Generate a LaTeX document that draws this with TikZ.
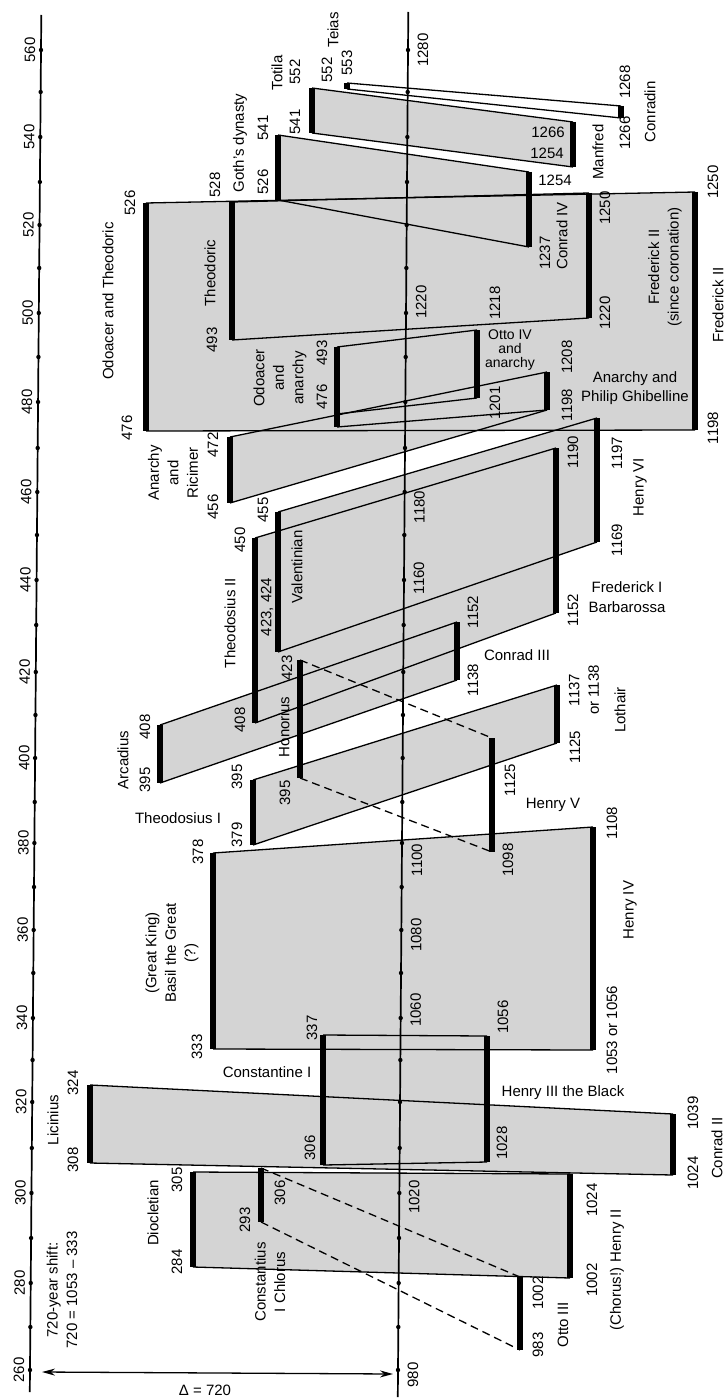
\documentclass[tikz,border=0pt]{standalone}
\usepackage{fontspec}
\setmainfont{Liberation Sans}
\usetikzlibrary{arrows.meta}

\colorlet{stipple}{black!17}
\tikzset{
  reignbar/.style={line width=6pt},
  edge/.style={line width=1.3pt},
  dashedge/.style={line width=1.3pt, dash pattern=on 8pt off 5pt},
  stip/.style={fill=stipple},
  vlab/.style={rotate=90, inner sep=1pt, align=center},
  hlab/.style={inner sep=1pt, align=center},
}

\begin{document}
\begin{tikzpicture}[x=1pt, y=-1pt, font=\fontsize{15}{19.5}\selectfont]
\useasboundingbox (0,0) rectangle (726,1399);

% ── Reign bars, earlier period (x, top, bottom) ─────────────────
\coordinate (licinT) at (90,1085);  \coordinate (licinB) at (90,1163);
\coordinate (dioclT) at (193,1172); \coordinate (dioclB) at (193,1267);
\coordinate (chlorT) at (261,1168); \coordinate (chlorB) at (261,1222);
\coordinate (constT) at (323,1035); \coordinate (constB) at (323,1165);
\coordinate (basilT) at (213,853);  \coordinate (basilB) at (213,1049);
\coordinate (theoIT) at (253,780);  \coordinate (theoIB) at (253,845);
\coordinate (arcadT) at (160,725);  \coordinate (arcadB) at (160,783);
\coordinate (honorT) at (300,660);  \coordinate (honorB) at (300,778);
\coordinate (theoIIT) at (255,538); \coordinate (theoIIB) at (255,723);
\coordinate (valenT) at (278,512);  \coordinate (valenB) at (278,652);
\coordinate (ricimT) at (230,437);  \coordinate (ricimB) at (230,503);
\coordinate (odoanT) at (337,347);  \coordinate (odoanB) at (337,427);
\coordinate (odoanM) at (337,414);
\coordinate (odothT) at (146,203);  \coordinate (odothB) at (146,431);
\coordinate (theodT) at (232,202);  \coordinate (theodB) at (232,340);
\coordinate (gothsT) at (278,135);  \coordinate (gothsB) at (278,200);
\coordinate (totilT) at (312,88);   \coordinate (totilB) at (312,133);
\coordinate (teiasT) at (347,83);   \coordinate (teiasB) at (347,89);

% ── Reign bars, later period ─────────────────────────────────────
\coordinate (conIIT) at (673,1114); \coordinate (conIIB) at (673,1175);
\coordinate (henIIT) at (570,1174); \coordinate (henIIB) at (570,1278);
\coordinate (ottIIIT) at (520,1277); \coordinate (ottIIIB) at (520,1350);
\coordinate (henIIIT) at (487,1036); \coordinate (henIIIB) at (487,1162);
\coordinate (henIVT) at (593,827);  \coordinate (henIVB) at (593,1050);
\coordinate (henVT) at (492,738);   \coordinate (henVB) at (492,852);
\coordinate (lothaT) at (557,685);  \coordinate (lothaB) at (557,743);
\coordinate (conIIIT) at (457,622); \coordinate (conIIIB) at (457,680);
\coordinate (fredIT) at (556,448);  \coordinate (fredIB) at (556,613);
\coordinate (henVIT) at (597,418);  \coordinate (henVIB) at (597,542);
\coordinate (philiT) at (547,372);  \coordinate (philiB) at (547,410);
\coordinate (ottIVT) at (477,330);  \coordinate (ottIVB) at (477,398);
\coordinate (fredIIT) at (695,192); \coordinate (fredIIB) at (695,430);
\coordinate (fredCT) at (589,193);  \coordinate (fredCB) at (589,318);
\coordinate (conIVT) at (529,172);  \coordinate (conIVB) at (529,247);
\coordinate (manfrT) at (573,122);  \coordinate (manfrB) at (573,167);
\coordinate (conraT) at (621,106);  \coordinate (conraB) at (621,118);

% ── Shaded bands ─────────────────────────────────────────────────
\foreach \a/\b in {licin/conII,diocl/henII,const/henIII,basil/henIV,theoI/lotha,arcad/conIII,theoII/fredI,valen/henVI,ricim/phili,odoth/fredII,theod/fredC,goths/conIV,totil/manfr}
  \fill[stip] (\a T) -- (\b T) -- (\b B) -- (\a B) -- cycle;
\fill[stip] (odoanT) -- (ottIVT) -- (ottIVB) -- (odoanM) -- cycle;

% band edges
\foreach \a/\b in {licin/conII,diocl/henII,const/henIII,basil/henIV,theoI/lotha,arcad/conIII,theoII/fredI,valen/henVI,ricim/phili,odoth/fredII,theod/fredC,goths/conIV,totil/manfr,teias/conra}
  \draw[edge] (\a T) -- (\b T) (\a B) -- (\b B);
\draw[edge] (odoanT) -- (ottIVT) (odoanM) -- (ottIVB);
\draw[edge] (odoanB) -- (philiB);

% dashed correspondences
\foreach \a/\b in {chlor/ottIII,honor/henV}
  \draw[dashedge] (\a T) -- (\b T) (\a B) -- (\b B);

% thick bars
\foreach \r in {licin,diocl,chlor,const,basil,theoI,arcad,honor,theoII,valen,ricim,odoan,odoth,theod,goths,totil,teias,conII,henII,ottIII,henIII,henIV,henV,lotha,conIII,fredI,henVI,phili,ottIV,fredII,fredC,conIV,manfr,conra}
  \draw[reignbar] (\r T) -- (\r B);

% ── Time axes ────────────────────────────────────────────────────
\coordinate (axLtop) at (41.3,15);  \coordinate (axLbot) at (29.8,1392);
\coordinate (axMtop) at (408.3,12); \coordinate (axMbot) at (397.8,1397);
\draw[line width=1.7pt] (axLtop) -- (axLbot);
\draw[line width=1.7pt] (axMtop) -- (axMbot);
\foreach \y in {50,92,137,182,225,268,313,357,402,448,492,535,580,625,672,715,758,802,843,887,930,973,1018,1060,1102,1148,1193,1238,1283,1327,1370}{
  \fill ({30+(1370-\y)*0.00833},\y) circle (2.2pt);
  \fill ({398+(1370-\y)*0.00758},\y) circle (2.2pt);
}
\foreach \t/\y in {260/1370,280/1283,300/1193,320/1102,340/1018,360/930,380/843,400/758,420/672,440/580,460/492,480/402,500/313,520/225,540/137,560/50}
  \node[vlab] (lft\t) at ({19+(1370-\y)*0.00833},\y) {\t};
\foreach \t/\y in {1280/50,1220/302,1180/507,1160/578,1100/860,1080/935,1060/1010,1020/1197,980/1375}
  \node[vlab] (mid\t) at ({413+(1370-\y)*0.00758},\y) {\t};

% 720-year shift
\coordinate (shiftL) at (42,1372);
\coordinate (shiftR) at (393,1374);
\draw[edge, {Stealth[length=13pt,width=7pt]}-{Stealth[length=13pt,width=7pt]}] (shiftL) -- (shiftR);
\node[hlab] (nDelta) at (205,1390) {Δ = 720};
\node[vlab] (nShift) at (62,1290) {720-year shift:\\720 = 1053 -- 333};

% ── Labels, top ──────────────────────────────────────────────────
\node[vlab] (nTeias) at (333,30) {Teias};
\node[vlab] (yTeiasT) at (347,63) {553};
\node[vlab] (yTeiasB) at (327,70) {552};
\node[vlab] (nTotila) at (277,73) {Totila};
\node[vlab] (yTotilT) at (295,72) {552};
\node[vlab] (yTotilB) at (295,122) {541};
\node[vlab] (nGoths) at (240,143) {Goth's dynasty};
\node[vlab] (yGothsT) at (263,128) {541};
\node[vlab] (yGothsB) at (263,182) {526};
\node[vlab] (yTheodT) at (215,185) {528};
\node[vlab] (yOdothT) at (130,203) {526};
\node[vlab] (nTheod) at (210,273) {Theodoric};
\node[vlab] (nOdoth) at (108,301) {Odoacer and Theodoric};
\node[vlab] (yTheodB) at (212,340) {493};
\node[vlab] (yOdothB) at (127,428) {476};

\node[vlab] (yConraT) at (625,82) {1268};
\node[vlab] (yConraB) at (625,133) {1266};
\node[vlab] (nConra) at (650,112) {Conradin};
\node[vlab] (nManfr) at (598,152) {Manfred};
\node[hlab] (yManfrT) at (548,132) {1266};
\node[hlab] (yManfrB) at (547,153) {1254};
\node[hlab] (yConIVT) at (555,180) {1254};
\node[vlab] (yConIVB) at (545,253) {1237};
\node[vlab] (nConIV) at (562,236) {Conrad IV};
\node[vlab] (yFredCT) at (605,208) {1250};
\node[vlab] (yFredCB) at (605,313) {1220};
\node[vlab] (nFredC) at (665,267) {Frederick II\\(since coronation)};
\node[vlab] (yFredIIT) at (713,182) {1250};
\node[vlab] (nFredII) at (718,305) {Frederick II};
\node[vlab] (yFredIIB) at (713,428) {1198};

% ── Labels, middle ───────────────────────────────────────────────
\node[vlab] (yOttIVT) at (495,303) {1218};
\node[hlab, font=\fontsize{14}{14}\selectfont] (nOttIV) at (510,350) {Otto IV\\and\\anarchy};
\node[vlab] (yOttIVB) at (495,403) {1201};
\node[vlab] (yPhiliT) at (567,357) {1208};
\node[vlab] (yPhiliB) at (567,405) {1198};
\node[hlab] (nPhili) at (635,388) {Anarchy and\\Philip Ghibelline};
\node[vlab] (yOdoanT) at (322,353) {493};
\node[vlab] (yOdoanB) at (322,397) {476};
\node[vlab] (nOdoan) at (280,378) {Odoacer\\and\\anarchy};
\node[vlab] (yRicimT) at (213,445) {472};
\node[vlab] (yRicimB) at (213,507) {456};
\node[vlab] (nRicim) at (173,473) {Anarchy\\and\\Ricimer};
\node[vlab] (yHenVIT) at (617,453) {1197};
\node[vlab] (yHenVIB) at (617,540) {1169};
\node[vlab] (nHenVI) at (640,487) {Henry VI};
\node[vlab] (yFredIT) at (573,452) {1190};
\node[vlab] (yFredIB) at (573,610) {1152};
\node[hlab] (nFredI) at (627,597) {Frederick I\\Barbarossa};
\node[vlab] (yValenT) at (263,510) {455};
\node[vlab] (nValen) at (297,567) {Valentinian};
\node[vlab] (yTheoIIT) at (240,540) {450};
\node[vlab] (nTheoII) at (230,623) {Theodosius II};
\node[vlab] (yValenB) at (267,607) {423, 424};
\node[vlab] (yConIIIT) at (473,612) {1152};
\node[vlab] (yConIIIB) at (473,680) {1138};
\node[hlab] (nConIII) at (517,655) {Conrad III};
\node[vlab] (yHonorT) at (287,668) {423};
\node[vlab] (nHonor) at (284,727) {Honorius};
\node[vlab] (yHonorB) at (285,793) {395};
\node[vlab] (yTheoIIB) at (240,720) {408};
\node[vlab] (yLothaT) at (584,690) {1137\\or 1138};
\node[vlab] (yLothaB) at (575,747) {1125};
\node[vlab] (nLotha) at (620,710) {Lothair};
\node[vlab] (nArcad) at (123,760) {Arcadius};
\node[vlab] (yArcadT) at (145,727) {408};
\node[vlab] (yArcadB) at (145,780) {395};
\node[vlab] (yTheoIT) at (237,777) {395};
\node[vlab] (yTheoIB) at (237,835) {379};
\node[hlab] (nTheoI) at (178,818) {Theodosius I};
\node[vlab] (yHenVT) at (510,780) {1125};
\node[vlab] (yHenVB) at (508,860) {1098};
\node[hlab] (nHenV) at (553,805) {Henry V};

% ── Labels, bottom ───────────────────────────────────────────────
\node[vlab] (yBasilT) at (198,852) {378};
\node[vlab] (yHenIVT) at (612,823) {1108};
\node[vlab] (nBasil) at (172,953) {(Great King)\\Basil the Great\\(?)};
\node[vlab] (nHenIV) at (630,910) {Henry IV};
\node[vlab] (yHenIIIT) at (503,1017) {1056};
\node[vlab] (yHenIVB) at (612,1030) {1053 or 1056};
\node[vlab] (yConstT) at (312,1028) {337};
\node[vlab] (yBasilB) at (197,1047) {333};
\node[hlab] (nConst) at (267,1072) {Constantine I};
\node[hlab] (nHenIII) at (563,1093) {Henry III the Black};
\node[vlab] (yLicinT) at (73,1083) {324};
\node[vlab] (yLicinB) at (73,1160) {308};
\node[vlab] (nLicin) at (53,1120) {Licinius};
\node[vlab] (yConstB) at (310,1148) {306};
\node[vlab] (yHenIIIB) at (502,1143) {1028};
\node[vlab] (yConIIT) at (693,1113) {1039};
\node[vlab] (yConIIB) at (693,1173) {1024};
\node[vlab] (nConII) at (717,1148) {Conrad II};
\node[vlab] (yDioclT) at (177,1180) {305};
\node[vlab] (yDioclB) at (177,1262) {284};
\node[vlab] (nDiocl) at (153,1213) {Diocletian};
\node[vlab] (yChlorB) at (245,1220) {293};
\node[vlab] (yChlorT) at (280,1193) {306};
\node[vlab] (nChlor) at (270,1282) {Constantius\\I Chlorus};
\node[vlab] (yHenIIT) at (592,1200) {1024};
\node[vlab] (yHenIIB) at (592,1280) {1002};
\node[vlab] (nHenII) at (617,1270) {(Chorus!) Henry II};
\node[vlab] (yOttIIIT) at (538,1293) {1002};
\node[vlab] (yOttIIIB) at (538,1345) {983};
\node[vlab] (nOttIII) at (563,1325) {Otto III};

\end{tikzpicture}
\end{document}
